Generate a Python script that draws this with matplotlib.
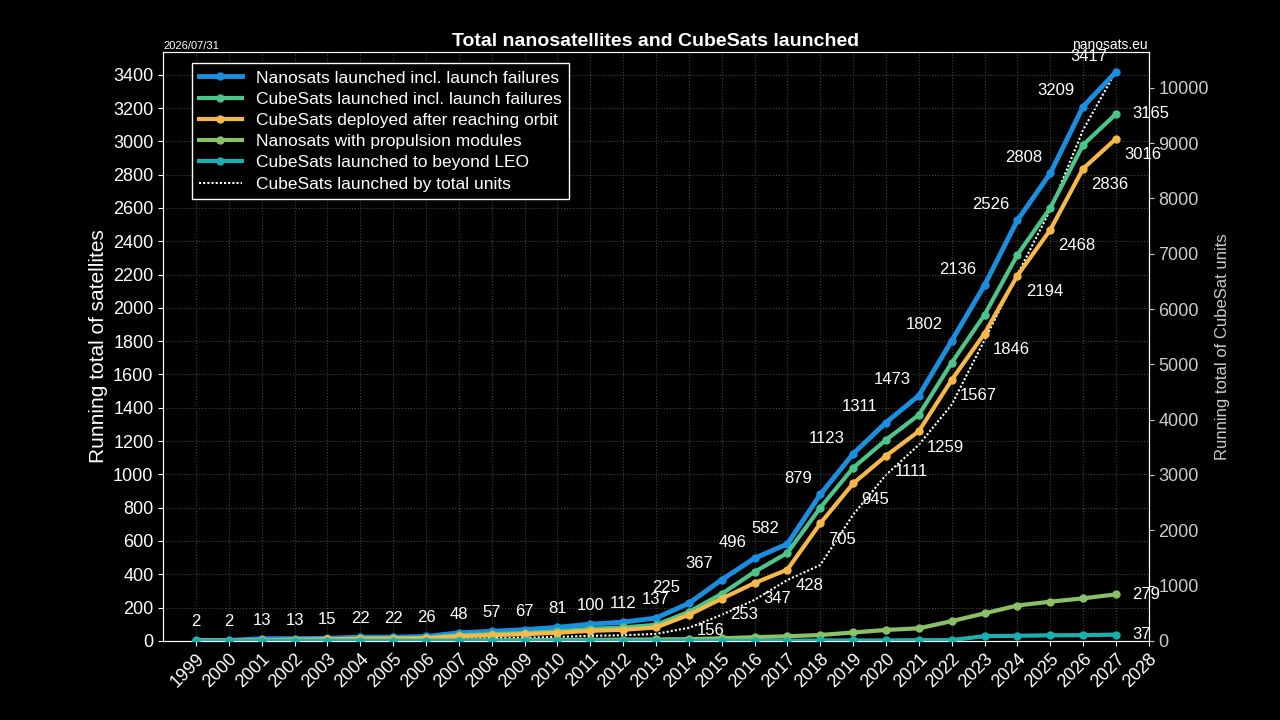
import matplotlib
matplotlib.use("Agg")
import matplotlib.pyplot as plt

years = list(range(1999, 2028))
nanosats = [2, 2, 13, 13, 15, 22, 22, 26, 48, 57, 67, 81, 100, 112, 137, 225, 367, 496, 582,
            879, 1123, 1311, 1473, 1802, 2136, 2526, 2808, 3209, 3417]
cubesats = [0, 1, 4, 7, 9, 14, 15, 18, 33, 40, 47, 57, 72, 80, 96, 174, 282, 414, 528,
            799, 1039, 1207, 1357, 1670, 1958, 2318, 2600, 2979, 3165]
deployed = [0, 1, 3, 6, 8, 12, 13, 15, 28, 34, 40, 48, 60, 66, 80, 156, 253, 347, 428,
            705, 945, 1111, 1259, 1567, 1846, 2194, 2468, 2836, 3016]
propulsion = [0, 0, 0, 0, 0, 1, 1, 1, 2, 3, 4, 5, 6, 7, 8, 10, 15, 22, 27,
              35, 50, 65, 75, 118, 165, 212, 235, 255, 279]
beyond_leo = [0, 0, 0, 0, 0, 0, 0, 0, 0, 0, 0, 0, 0, 0, 0, 0, 0, 0, 0,
              2, 2, 2, 4, 4, 28, 30, 33, 34, 37]
units = [0, 1, 4, 8, 10, 16, 17, 20, 40, 50, 58, 70, 90, 100, 125, 235, 470, 740, 1100,
         1370, 2280, 3000, 3545, 4270, 5440, 6620, 7790, 9240, 10300]
tick_years = list(range(1999, 2029))

plt.rcParams["font.family"] = ["Liberation Sans", "DejaVu Sans"]
fig = plt.figure(figsize=(12.8, 7.2), dpi=100, facecolor="black")
ax = fig.add_axes([0.1275, 0.11, 0.77, 0.818])
ax.set_facecolor("black")
ax2 = ax.twinx()

series = [
    (nanosats, "#1a8fe0", 3.5, "Nanosats launched incl. launch failures"),
    (cubesats, "#4cc48a", 3, "CubeSats launched incl. launch failures"),
    (deployed, "#f7b84a", 3, "CubeSats deployed after reaching orbit"),
    (propulsion, "#8cc068", 3, "Nanosats with propulsion modules"),
    (beyond_leo, "#1ab0b0", 3, "CubeSats launched to beyond LEO"),
]
handles = []
for vals, col, lw, lab in series:
    h, = ax.plot(years, vals, color=col, lw=lw, marker="o", ms=5, label=lab, zorder=3)
    handles.append(h)
hu, = ax2.plot(years, units, color="white", lw=1.5, ls=(0, (1, 1)),
               label="CubeSats launched by total units")
handles.append(hu)

ax.set_xlim(1998.0, 2028.0)
ax.set_ylim(0, 3538)
ax2.set_ylim(0, 10651)
ax.set_yticks(range(0, 3401, 200))
ax2.set_yticks(range(0, 10001, 1000))
ax.set_xticks(tick_years)
ax.set_xticklabels([str(y) for y in tick_years], rotation=45, ha="right",
                   rotation_mode="anchor", fontsize=13, color="white")
ax.tick_params(axis="y", colors="white", labelsize=13)
ax2.tick_params(axis="y", colors="#cccccc", labelsize=13)
ax.tick_params(axis="x", colors="white")
for a in (ax, ax2):
    for s in a.spines.values():
        s.set_color("white")
ax.grid(True, color="#444444", ls=":", lw=0.8)
ax.set_ylabel("Running total of satellites", color="white", fontsize=15)
ax2.set_ylabel("Running total of CubeSat units", color="#cccccc", fontsize=12)

for x, v in zip(years, nanosats):
    if x < 2014:
        ax.annotate(str(v), (x, v), xytext=(0, 8), textcoords="offset points",
                    ha="center", va="bottom", color="white", fontsize=12)
    else:
        ax.annotate(str(v), (x, v), xytext=(-6, 6), textcoords="offset points",
                    ha="right", va="bottom", color="white", fontsize=12)
for x, v in zip(years, deployed):
    if x >= 2014:
        ax.annotate(str(v), (x, v), xytext=(6, -6), textcoords="offset points",
                    ha="left", va="top", color="white", fontsize=12)
for vals in (cubesats, propulsion, beyond_leo):
    ax.annotate(str(vals[-1]), (years[-1], vals[-1]), xytext=(12, 0),
                textcoords="offset points", ha="left", va="center", color="white", fontsize=12)

leg = ax.legend(handles=handles, loc="upper left", bbox_to_anchor=(0.02, 0.995),
                facecolor="black", edgecolor="white", fontsize=12.5, framealpha=1,
                borderpad=0.4, labelspacing=0.35, handlelength=2.5)
leg.get_frame().set_linewidth(1)
leg.get_frame().set_boxstyle("square", pad=0)
for t in leg.get_texts():
    t.set_color("white")
ax2.set_zorder(0)
ax.set_zorder(1)
ax.patch.set_visible(False)

ax.set_title("Total nanosatellites and CubeSats launched", color="white",
             fontsize=14, fontweight="bold", pad=4)
fig.text(0.1275, 0.932, "2026/07/31", color="white", fontsize=8)
fig.text(0.897, 0.932, "nanosats.eu", color="white", fontsize=10, ha="right")

fig.savefig("out.png", dpi=100, facecolor="black")
